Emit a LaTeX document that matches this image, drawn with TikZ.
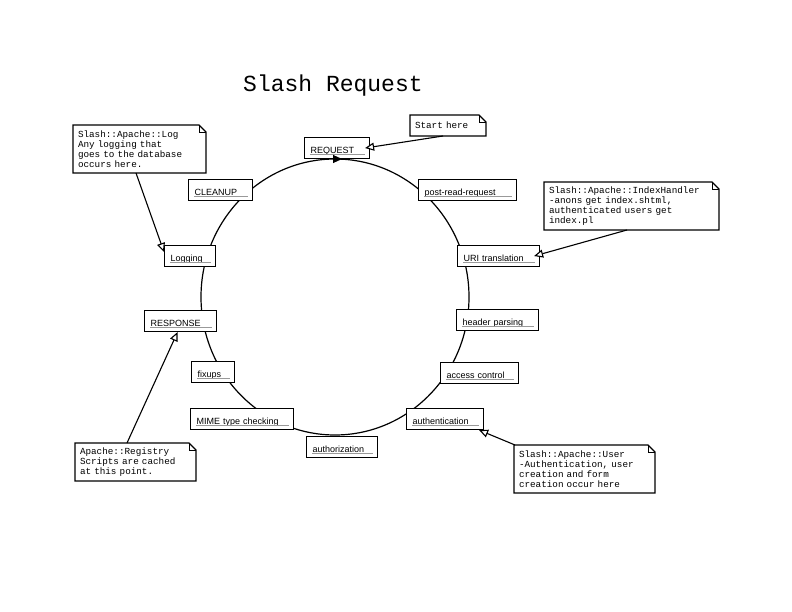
\documentclass[tikz,border=0pt]{standalone}
\usepackage{fontspec}
\setmainfont{Liberation Sans}
\newfontfamily\notefont{Liberation Mono}
\usetikzlibrary{arrows.meta}
\tikzset{
  stepbox/.style={draw=black, fill=white, line width=1.1pt, rectangle, anchor=north west,
    inner xsep=6pt, inner ysep=0pt, text height=15.5pt, text depth=5.5pt, align=left,
    font=\fontsize{9}{10}\selectfont},
  uline/.style={draw=black!40, line width=0.8pt},
  notebox/.style={rectangle, anchor=north west, inner xsep=5pt, inner ysep=0pt, outer sep=0pt,
    align=left, font=\notefont\fontsize{9.3}{9.8}\selectfont},
  noteline/.style={draw=black, line width=1.1pt, line join=miter},
  pointer/.style={line width=1.1pt, -{Triangle[fill=white, length=9pt, width=8pt]}},
  cycleline/.style={line width=1.2pt},
}
\newcommand\phasebox[5]{%
  \pgfmathsetmacro\bw{#4-#2-12}%
  \node[stepbox, text width=\bw pt] (#1) at (#2,#3) {#5};
  \draw[uline] ([xshift=6pt,yshift=4.5pt]#1.south west) -- ([xshift=-5pt,yshift=4.5pt]#1.south east);
}
\newcommand\notebox[6]{%
  \pgfmathsetmacro\nw{#4-#2-10}\pgfmathsetmacro\nh{#5-#3}%
  \node[notebox, text width=\nw pt, minimum height=\nh pt] (#1) at (#2,#3) {#6};
  \draw[noteline] (#1.south west) -- (#1.north west) -- ([xshift=-7pt]#1.north east)
    -- ([yshift=-7pt]#1.north east) -- (#1.south east) -- cycle;
  \draw[noteline, line width=0.8pt] ([xshift=-7pt]#1.north east) -- ([xshift=-7pt,yshift=-7pt]#1.north east)
    -- ([yshift=-7pt]#1.north east);
}
\begin{document}
\begin{tikzpicture}[x=1pt,y=-1pt]
\fill[white] (0,0) rectangle (792,612);
\useasboundingbox (0,0) rectangle (792,612);

\node[font=\notefont\fontsize{23}{23}\selectfont, anchor=base west, inner sep=0pt] (title) at (243,92) {Slash Request};

% request cycle
\draw[cycleline] (335,297) ellipse [x radius=134, y radius=138];

\phasebox{req}{304}{137}{369}{REQUEST}
\phasebox{prr}{418}{179}{516}{post-read-request}
\phasebox{uri}{457}{245}{539}{URI translation}
\phasebox{hdr}{456}{309}{538}{header parsing}
\phasebox{acc}{440}{362}{518}{access control}
\phasebox{authn}{406}{408}{483}{authentication}
\phasebox{authz}{306}{436}{377}{authorization}
\phasebox{mime}{190}{408}{293}{MIME type checking}
\phasebox{fix}{191}{361}{234}{fixups}
\phasebox{resp}{144}{310}{216}{RESPONSE}
\phasebox{log}{164}{245}{215}{Logging}
\phasebox{clean}{188}{179}{252}{CLEANUP}

\coordinate (atail) at (332,159);
\coordinate (ahead) at (342,159);
\draw[line width=1pt, -{Triangle[length=9pt, width=8pt]}] (atail) -- (ahead);

% notes
\notebox{startnote}{410}{115}{486}{136}{Start here}
\notebox{lognote}{73}{125}{206}{173}{Slash::Apache::Log\\Any logging that\\goes to the database\\occurs here.}
\notebox{idxnote}{544}{182}{719}{230}{Slash::Apache::IndexHandler\\-anons get index.shtml,\\authenticated users get\\index.pl}
\notebox{regnote}{75}{443}{196}{481}{Apache::Registry\\Scripts are cached\\at this point.}
\notebox{usernote}{514}{445}{655}{493}{Slash::Apache::User\\-Authentication, user\\creation and form\\creation occur here}

\draw[pointer] ([xshift=33pt]startnote.south west) -- ([xshift=-5pt]req.east);
\draw[pointer] ([xshift=63pt]lognote.south west) -- ([yshift=-7pt]log.north west);
\draw[pointer] ([xshift=83pt]idxnote.south west) -- ([xshift=-6pt]uri.east);
\draw[pointer] ([xshift=52pt]regnote.north west) -- ([xshift=-3pt]resp.south);
\draw[pointer] ([xshift=1pt]usernote.north west) -- ([xshift=-5pt]authn.south east);
\end{tikzpicture}
\end{document}
